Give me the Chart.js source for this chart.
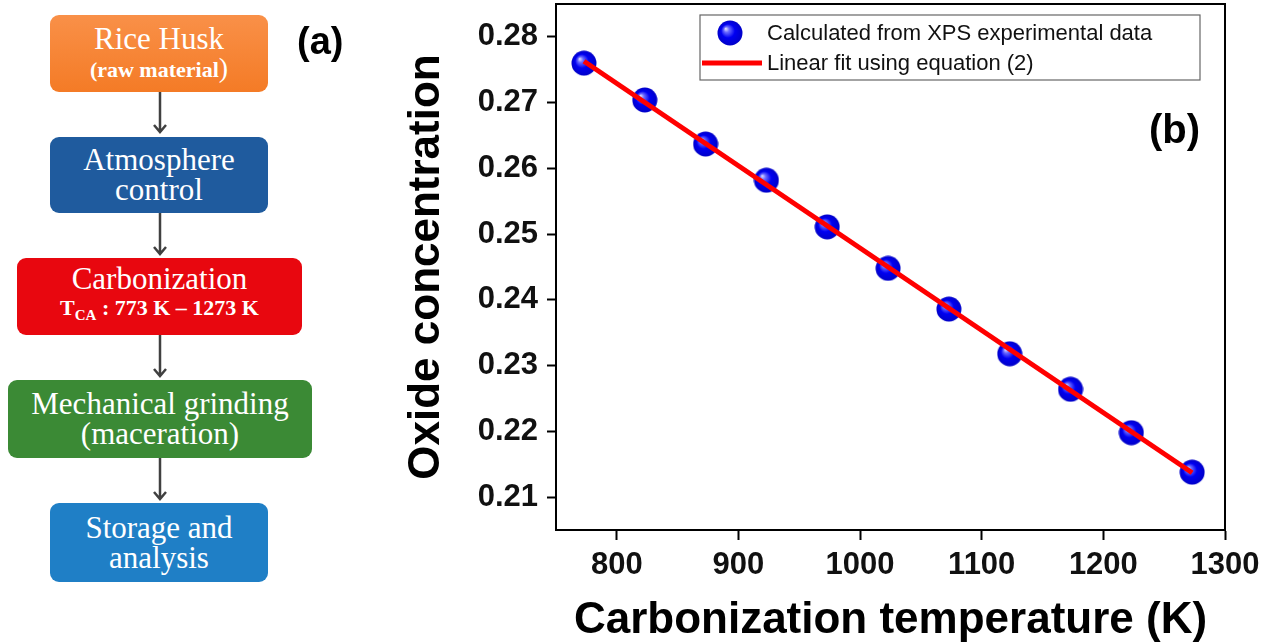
<!DOCTYPE html>
<html>
<head>
<meta charset="utf-8">
<script src="https://cdn.jsdelivr.net/npm/chart.js@4"></script>
<style>
  body { margin: 0; background: #fff; }
  #wrap { position: relative; width: 1268px; height: 644px; overflow: hidden; }
  #chart { position: absolute; left: 0; top: 0; }
  .box {
    position: absolute; color: #fff; text-align: center;
    font-family: "Liberation Serif", "Times New Roman", serif;
    border-radius: 9px; display: flex; flex-direction: column;
    justify-content: center; line-height: 30px; font-size: 31px;
  }
  .small { font-weight: bold; font-size: 22px; line-height: 28px; }
  #panelA { position: absolute; left: 297px; top: 20px; font: bold 38px Arial, "Liberation Sans", sans-serif; }
  svg { position: absolute; left: 0; top: 0; }
</style>
</head>
<body>
<div id="wrap">
  <canvas id="chart" width="1268" height="644"></canvas>

  <div class="box" style="left:50px;top:15px;width:218px;height:77px;background:linear-gradient(#f99048,#f47b26);">
    <div>Rice Husk</div>
    <div class="small">(raw material<span style="font-weight:normal;font-size:28px">)</span></div>
  </div>
  <div class="box" style="left:50px;top:137px;width:218px;height:76px;background:#1f5b9e;">
    <div>Atmosphere</div><div>control</div>
  </div>
  <div class="box" style="left:17px;top:258px;width:285px;height:77px;background:#e8070f;">
    <div>Carbonization</div>
    <div class="small">T<sub style="font-size:15px">CA</sub> : 773 K – 1273 K</div>
  </div>
  <div class="box" style="left:8px;top:380px;width:304px;height:78px;background:#3b8a35;">
    <div>Mechanical grinding</div><div>(maceration)</div>
  </div>
  <div class="box" style="left:50px;top:503px;width:218px;height:79px;background:#1f7fc6;">
    <div>Storage and</div><div>analysis</div>
  </div>
  <svg width="330" height="644">
    <g stroke="#404040" stroke-width="2.5" fill="none">
      <path d="M160 92 V132 M154 125 L160 132 L166 125"/>
      <path d="M160 213 V254 M154 247 L160 254 L166 247"/>
      <path d="M160 335 V376 M154 369 L160 376 L166 369"/>
      <path d="M160 458 V499 M154 492 L160 499 L166 492"/>
    </g>
  </svg>
  <div id="panelA">(a)</div>
</div>

<script>
const temperatures = [773, 823, 873, 923, 973, 1023, 1073, 1123, 1173, 1223, 1273];
const oxideValues = [0.2760, 0.2704, 0.2637, 0.2582, 0.2511, 0.2448, 0.2386, 0.2318, 0.2264, 0.2198, 0.2138];
const fitTemperatures = [773, 1273];
const fitValues = [0.2763, 0.2137];
const xTicks = [800, 900, 1000, 1100, 1200, 1300];
const yTicks = [0.21, 0.22, 0.23, 0.24, 0.25, 0.26, 0.27, 0.28];

const FONT = "Arial, 'Liberation Sans', sans-serif";

// blue shaded ball used for the markers and the legend
function drawSphere(ctx, cx, cy, r) {
  const g = ctx.createRadialGradient(cx - r * 0.35, cy - r * 0.35, 0, cx, cy, r);
  g.addColorStop(0, "#e8e8ff");
  g.addColorStop(0.22, "#6a6aff");
  g.addColorStop(0.55, "#0000f2");
  g.addColorStop(1, "#0000c8");
  ctx.beginPath();
  ctx.arc(cx, cy, r, 0, Math.PI * 2);
  ctx.fillStyle = g;
  ctx.fill();
}

const sphere = document.createElement("canvas");
sphere.width = 26;
sphere.height = 26;
drawSphere(sphere.getContext("2d"), 13, 13, 12.5);

const framePlugin = {
  id: "frame",
  afterDraw(chart) {
    const { ctx, chartArea: a } = chart;
    ctx.save();
    ctx.strokeStyle = "#000";
    ctx.lineWidth = 2;
    ctx.strokeRect(a.left, a.top, a.right - a.left, a.bottom - a.top);

    // legend box
    const lx = a.left + 144, ly = a.top + 11;
    ctx.strokeStyle = "#666";
    ctx.lineWidth = 1.2;
    ctx.strokeRect(lx, ly, 500, 65);
    drawSphere(ctx, lx + 30, ly + 18, 12.5);
    ctx.strokeStyle = "#ff0000";
    ctx.lineWidth = 5;
    ctx.beginPath();
    ctx.moveTo(lx + 2, ly + 48);
    ctx.lineTo(lx + 62, ly + 48);
    ctx.stroke();
    ctx.fillStyle = "#111";
    ctx.font = "22px " + FONT;
    ctx.textBaseline = "middle";
    ctx.fillText("Calculated from XPS experimental data", lx + 67, ly + 19);
    ctx.fillText("Linear fit using equation (2)", lx + 67, ly + 49);

    ctx.font = "bold 40px " + FONT;
    ctx.textAlign = "right";
    ctx.fillStyle = "#000";
    ctx.fillText("(b)", a.right - 25, a.top + 128);
    ctx.restore();
  }
};

const ctx = document.getElementById("chart").getContext("2d");
new Chart(ctx, {
  type: "scatter",
  data: {
    datasets: [
      {
        label: "Linear fit using equation (2)",
        data: fitTemperatures.map((t, i) => ({ x: t, y: fitValues[i] })),
        showLine: true,
        borderColor: "#ff0000",
        borderWidth: 5,
        pointRadius: 0,
        order: 0,
      },
      {
        label: "Calculated from XPS experimental data",
        data: temperatures.map((t, i) => ({ x: t, y: oxideValues[i] })),
        pointStyle: sphere,
        pointRadius: 12,
        order: 1,
      },
    ],
  },
  options: {
    responsive: false,
    animation: false,
    layout: { autoPadding: false, padding: { left: 380, right: 43, top: 4, bottom: 0 } },
    plugins: { legend: { display: false }, tooltip: { enabled: false } },
    scales: {
      x: {
        type: "linear",
        min: 750,
        max: 1300,
        afterBuildTicks: (s) => { s.ticks = xTicks.map((v) => ({ value: v })); },
        afterFit: (s) => {
          s.height = 114;
          s.paddingLeft = 0;
          s.paddingRight = 0;
        },
        ticks: {
          font: { family: FONT, weight: "bold", size: 31 },
          color: "#111",
          padding: 7,
          maxRotation: 0,
          autoSkip: false,
          callback: (v) => String(v),
        },
        grid: { drawOnChartArea: false, tickLength: 10, tickWidth: 2, tickColor: "#000" },
        border: { color: "#000", width: 2 },
        title: {
          display: true,
          text: "Carbonization temperature (K)",
          color: "#000",
          font: { family: FONT, weight: "bold", size: 44, lineHeight: 1 },
          padding: { top: 0, bottom: 1 },
        },
      },
      y: {
        min: 0.205,
        max: 0.285,
        afterBuildTicks: (s) => { s.ticks = yTicks.map((v) => ({ value: v })); },
        afterFit: (s) => {
          s.width = 176;
          s.paddingTop = 0;
          s.paddingBottom = 0;
        },
        ticks: {
          font: { family: FONT, weight: "bold", size: 31 },
          color: "#111",
          padding: 9,
          autoSkip: false,
          callback: (v) => v.toFixed(2),
        },
        grid: { drawOnChartArea: false, tickLength: 9, tickWidth: 2, tickColor: "#000" },
        border: { color: "#000", width: 2 },
        title: {
          display: true,
          text: "Oxide concentration",
          color: "#000",
          font: { family: FONT, weight: "bold", size: 44, lineHeight: 1 },
          padding: { top: 25, bottom: 0 },
        },
      },
    },
  },
  plugins: [framePlugin],
});
</script>
</body>
</html>
